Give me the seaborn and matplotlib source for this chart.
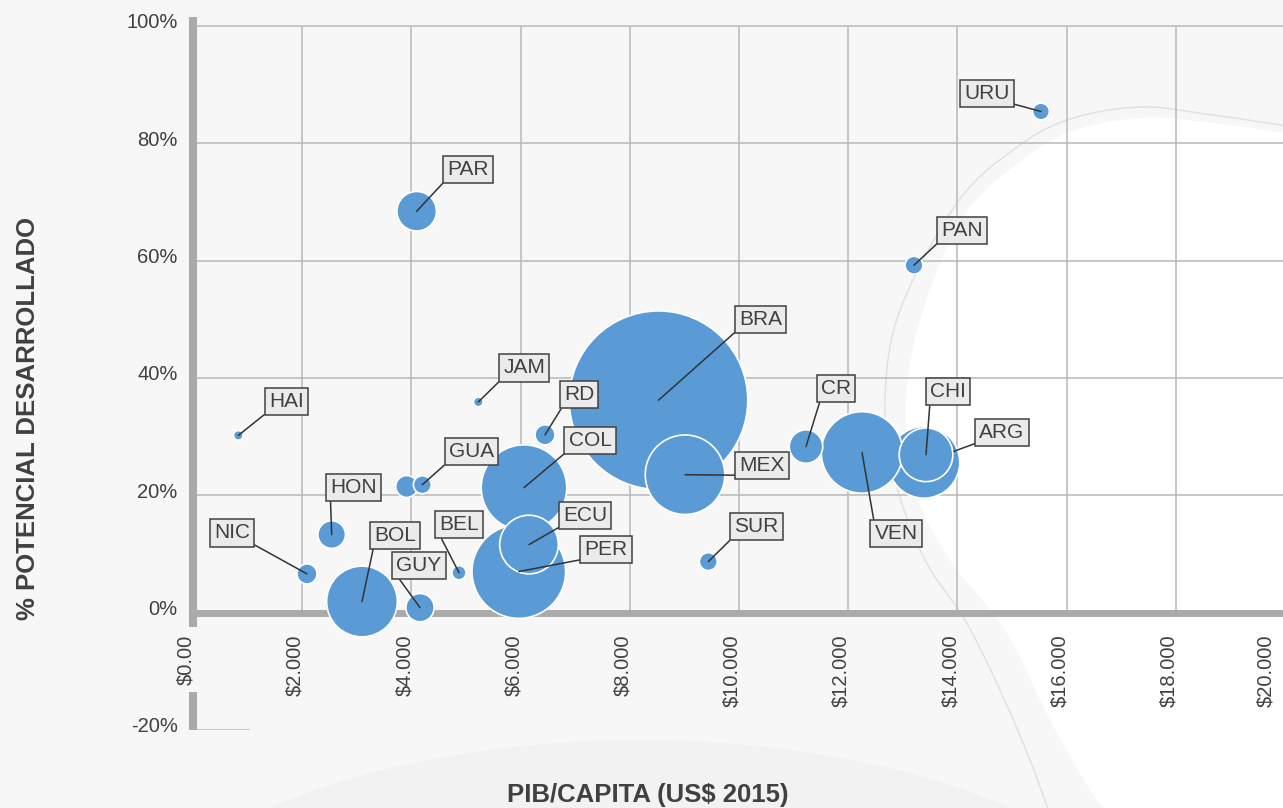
import numpy as np
import pandas as pd
import matplotlib
matplotlib.use("Agg")
import matplotlib.pyplot as plt
import matplotlib.transforms as mtransforms
from matplotlib.patches import Polygon, Ellipse
import seaborn as sns

# ---------------- data ----------------
paises = ["BRA", "PER", "COL", "ARG", "VEN", "CHI", "MEX", "ECU", "BOL", "PAR",
          "CR", "HON", "GUY", "", "GUA", "NIC", "RD", "SUR", "URU", "PAN",
          "BEL", "JAM", "HAI"]
pib_capita = [8526, 5967, 6062, 13388, 12253, 13425, 9011, 6154, 3095, 4097,
              11227, 2540, 4158, 3914, 4200, 2088, 6447, 9438, 15531, 13205,
              4872, 5225, 830]
potencial = [0.362, 0.070, 0.213, 0.256, 0.273, 0.269, 0.235, 0.116, 0.019, 0.684,
             0.283, 0.133, 0.0085, 0.215, 0.218, 0.066, 0.303, 0.087, 0.854, 0.592,
             0.068, 0.359, 0.302]
tamano = [797, 219, 183, 128, 166, 72, 158, 86, 125, 39,
          28, 19, 20, 12, 8, 10, 10, 8, 7, 8,
          5, 2.3, 2.3]

x_ticks = [0, 2000, 4000, 6000, 8000, 10000, 12000, 14000, 16000, 18000, 20000]
x_tick_labels = ["$0.00", "$2.000", "$4.000", "$6.000", "$8.000", "$10.000",
                 "$12.000", "$14.000", "$16.000", "$18.000", "$20.000"]
y_ticks = [-0.2, 0.0, 0.2, 0.4, 0.6, 0.8, 1.0]
y_tick_labels = ["-20%", "0%", "20%", "40%", "60%", "80%", "100%"]

df = pd.DataFrame({"pais": paises, "pib": pib_capita, "pot": potencial, "tam": tamano})

# ---------------- layout / style ----------------
W, H = 1283, 808
BG = "#f7f7f7"
BLUE = "#5b9bd5"
TXT = "#404040"
GRID = "#b8b8b8"
AXIS = "#aaaaaa"

# label box offsets in pixels (dx, dy up) from bubble centre
offsets = {
    "URU": (-54, 18), "PAN": (48, 35), "PAR": (51, 42), "BRA": (102, 81),
    "JAM": (46, 34), "RD": (34, 40), "COL": (66, 47), "MEX": (77, 9),
    "ECU": (56, 29), "PER": (87, 22), "SUR": (48, 35), "CR": (30, 58),
    "VEN": (34, -81), "CHI": (22, 63), "ARG": (78, 30), "HAI": (48, 34),
    "GUA": (49, 33), "HON": (22, 47), "NIC": (-75, 41), "BOL": (33, 66),
    "GUY": (-1, 42), "BEL": (0, 48),
}
shrink_end = {"ARG": 23}

plt.rcParams["font.family"] = ["Liberation Sans", "DejaVu Sans"]

fig = plt.figure(figsize=(W / 100, H / 100), dpi=100, facecolor=BG)


def px(x, y):
    return (x / W, 1 - y / H)


def smooth(points, n=24):
    P = np.array(points, float)
    P = np.vstack([P[0], P, P[-1]])
    out = []
    t = np.linspace(0, 1, n, endpoint=False)[:, None]
    for i in range(1, len(P) - 2):
        p0, p1, p2, p3 = P[i - 1], P[i], P[i + 1], P[i + 2]
        out.append(0.5 * ((2 * p1) + (-p0 + p2) * t + (2 * p0 - 5 * p1 + 4 * p2 - p3) * t ** 2
                          + (-p0 + 3 * p1 - 3 * p2 + p3) * t ** 3))
    out.append(P[-2][None])
    return np.vstack(out)


# decorative background shapes
fig.add_artist(Ellipse(px(640, 1000), 1100 / W, 520 / H, transform=fig.transFigure,
                       facecolor="#f2f2f2", edgecolor="none", zorder=-3))
blob = [(1300, 135), (1213, 123), (1140, 118), (1067, 133), (1013, 167), (963, 217),
        (923, 310), (906, 400), (915, 490), (950, 560), (1005, 630), (1050, 720),
        (1090, 790), (1110, 815)]
curve = smooth(blob)
poly = np.vstack([curve, [[1300, 815]]])
poly_fig = np.column_stack([poly[:, 0] / W, 1 - poly[:, 1] / H])
fig.add_artist(Polygon(poly_fig, closed=True, transform=fig.transFigure,
                       facecolor="white", edgecolor="none", zorder=-2))
outline = [(1300, 128), (1213, 115), (1140, 107), (1067, 120), (1013, 150), (957, 203),
           (900, 310), (885, 400), (895, 480), (925, 560), (965, 620), (1000, 690),
           (1030, 760), (1050, 815)]
oc = smooth(outline)
fig.add_artist(matplotlib.lines.Line2D(oc[:, 0] / W, 1 - oc[:, 1] / H, transform=fig.transFigure,
                                       color="#e0e0e0", lw=1.0, zorder=-1))

# axes
ax = fig.add_axes([193 / W, (H - 730) / H, 1092 / W, 713 / H])
ax.set_facecolor("none")
ax.set_xlim(0, 20000)
ax.set_ylim(-0.2, 1.015)

# grid drawn within data region
ax.vlines(x_ticks[1:], 0, 1.0, colors=GRID, lw=1.1, zorder=1)
ax.hlines([t for t in y_ticks if t > 0], 0, 20000, colors=GRID, lw=1.1, zorder=1)
ax.hlines(-0.2, 0, 1050, colors=GRID, lw=1.1, zorder=1)

# spines
for s in ["top", "right", "left"]:
    ax.spines[s].set_visible(False)
ax.spines["bottom"].set_position(("data", 0))
ax.spines["bottom"].set_color(AXIS)
ax.spines["bottom"].set_linewidth(5)
ax.spines["bottom"].set_zorder(2)
ax.plot([0, 0], [1.015, -0.024], color=AXIS, lw=5.8, solid_capstyle="butt",
        clip_on=False, zorder=2)
ax.plot([0, 0], [-0.135, -0.2], color=AXIS, lw=5.8, solid_capstyle="butt",
        clip_on=False, zorder=2)

# bubbles
vmax = max(tamano)
smax = 20.736 * vmax
sns.scatterplot(data=df, x="pib", y="pot", size="tam", sizes=(0, smax),
                size_norm=(0, vmax), color=BLUE, edgecolor="white", linewidth=1.2,
                alpha=1, legend=False, ax=ax, zorder=3, clip_on=False)

# labels
for name, xv, yv in zip(paises, pib_capita, potencial):
    if not name:
        continue
    dx, dy = offsets[name]
    rx = 1 if dx < -10 else 0
    ry = 0 if dy > 0 else 1
    ax.annotate(name, xy=(xv, yv), xytext=(dx, dy), textcoords="offset pixels",
                ha="center", va="center", fontsize=15, color=TXT, zorder=6,
                bbox=dict(boxstyle="square,pad=0.2", fc="#ebebeb", ec=TXT, lw=1.1),
                arrowprops=dict(arrowstyle="-", color="#333333", lw=1.1,
                                relpos=(rx, ry), shrinkA=0,
                                shrinkB=shrink_end.get(name, 0)))

# ticks
ax.set_xticks(x_ticks)
ax.set_xticklabels(x_tick_labels, rotation=90, fontsize=14.5, color=TXT)
ax.set_yticks(y_ticks)
ax.set_yticklabels(y_tick_labels, fontsize=14.5, color=TXT)
ax.tick_params(axis="x", length=0, pad=16)
ax.tick_params(axis="y", length=0, pad=11)
ax.set_xlabel("")
ax.set_ylabel("")
xlabels = ax.get_xticklabels()
for i, lbl in enumerate(xlabels):
    shift = -7 if i < len(xlabels) - 1 else -19
    lbl.set_transform(lbl.get_transform()
                      + mtransforms.ScaledTranslation(shift / 100, 0, fig.dpi_scale_trans))
offy = mtransforms.ScaledTranslation(0, 5 / 100, fig.dpi_scale_trans)
for lbl in ax.get_yticklabels():
    lbl.set_transform(lbl.get_transform() + offy)

fig.text(28 / W, 1 - 418 / H, "% POTENCIAL DESARROLLADO", rotation=90, ha="center",
         va="center", fontsize=18.5, fontweight="bold", color=TXT)
fig.text(648 / W, 1 - 795 / H, "PIB/CAPITA (US$ 2015)", ha="center", va="center",
         fontsize=18.5, fontweight="bold", color=TXT)

fig.savefig("out.png", dpi=100, facecolor=BG)
